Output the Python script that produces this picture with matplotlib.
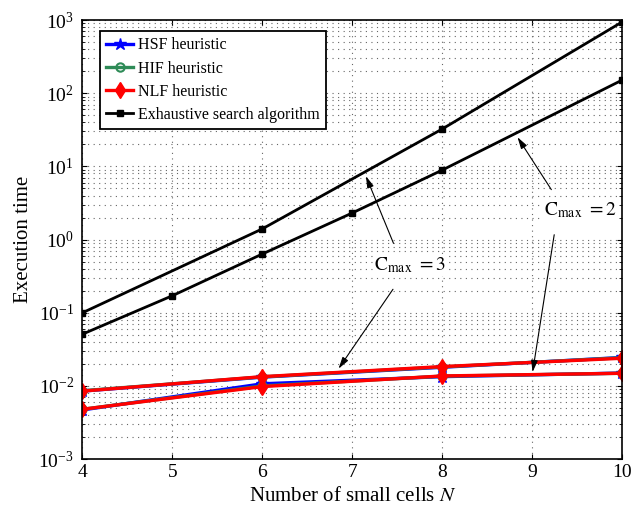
import matplotlib
matplotlib.use("Agg")
import matplotlib.pyplot as plt

plt.rcParams['font.family'] = ['Liberation Serif', 'DejaVu Serif']
plt.rcParams['mathtext.fontset'] = 'stix'

# execution time values
n_heur = [4, 6, 8, 10]
hsf_c3 = [0.0085, 0.0132, 0.0180, 0.0245]
hsf_c2 = [0.0047, 0.0107, 0.0134, 0.0150]
hif_c3 = [0.0086, 0.0133, 0.0182, 0.0243]
hif_c2 = [0.0048, 0.0100, 0.0136, 0.0149]
nlf_c3 = [0.0085, 0.0134, 0.0184, 0.0239]
nlf_c2 = [0.0048, 0.0098, 0.0137, 0.0149]

n_exh_c3 = [4, 6, 8, 10]
exh_c3 = [0.1, 1.40, 32.4, 940]
n_exh_c2 = [4, 5, 6, 7, 8, 10]
exh_c2 = [0.051, 0.171, 0.635, 2.31, 8.9, 151]

fig = plt.figure(figsize=(6.44, 5.13), dpi=100)
ax = fig.add_axes([0.128, 0.105, 0.838, 0.856])

ax.plot(n_heur, hsf_c3, color='blue', lw=2.4, marker='*', ms=9, label='HSF heuristic')
ax.plot(n_heur, hsf_c2, color='blue', lw=2.4, marker='*', ms=9)
ax.plot(n_heur, hif_c3, color='#2e8b57', lw=2.4, marker='o', ms=6, mfc='none', mew=1.5, label='HIF heuristic')
ax.plot(n_heur, hif_c2, color='#2e8b57', lw=2.4, marker='o', ms=6, mfc='none', mew=1.5)
ax.plot(n_heur, nlf_c3, color='red', lw=2.4, marker='d', ms=8, label='NLF heuristic')
ax.plot(n_heur, nlf_c2, color='red', lw=2.4, marker='d', ms=8)
ax.plot(n_exh_c3, exh_c3, color='black', lw=2, marker='s', ms=5, label='Exhaustive search algorithm')
ax.plot(n_exh_c2, exh_c2, color='black', lw=2, marker='s', ms=5)

ax.set_yscale('log')
ax.set_xlim(4, 10)
ax.set_ylim(1e-3, 1e3)
ax.set_xticks([4, 5, 6, 7, 8, 9, 10])
ax.set_yticks([1e-3, 1e-2, 1e-1, 1e0, 1e1, 1e2, 1e3])

ax.grid(True, which='major', ls=(0, (1, 4)), color='#666666', lw=0.8)
ax.grid(True, which='minor', axis='y', ls=(0, (1, 4)), color='#666666', lw=0.8)
ax.tick_params(which='both', direction='in', top=True, right=True, labelsize=14)
ax.tick_params(axis='y', pad=6)
for s in ax.spines.values():
    s.set_linewidth(1.2)

ax.set_xlabel('Number of small cells $N$', fontsize=15)
ax.set_ylabel('Execution time', fontsize=15)

leg = ax.legend(loc='upper left', bbox_to_anchor=(0.032, 0.975), borderaxespad=0,
                fontsize=11.5, fancybox=False, framealpha=1, edgecolor='black',
                handlelength=1.7, handletextpad=0.3, labelspacing=0.45)
leg.get_frame().set_linewidth(1.3)

# C_max labels with arrows
arr = dict(arrowstyle='-|>,head_length=0.7,head_width=0.2', color='black', lw=0.8)
ax.text(7.64, 0.45, r'$\mathrm{C_{max}\ = 3}$', fontsize=14, ha='center', va='center',
        bbox=dict(facecolor='white', edgecolor='none', pad=1))
ax.annotate('', xy=(7.14, 8.0), xytext=(7.47, 0.82), arrowprops=arr)
ax.annotate('', xy=(6.83, 0.016), xytext=(7.47, 0.225), arrowprops=arr)

ax.text(9.53, 2.53, r'$\mathrm{C_{max}\ = 2}$', fontsize=14, ha='center', va='center',
        bbox=dict(facecolor='white', edgecolor='none', pad=1))
ax.annotate('', xy=(8.82, 27), xytext=(9.23, 4.47), arrowprops=arr)
ax.annotate('', xy=(9.0, 0.0142), xytext=(9.25, 1.27), arrowprops=arr)

fig.savefig('out.png', dpi=100)
